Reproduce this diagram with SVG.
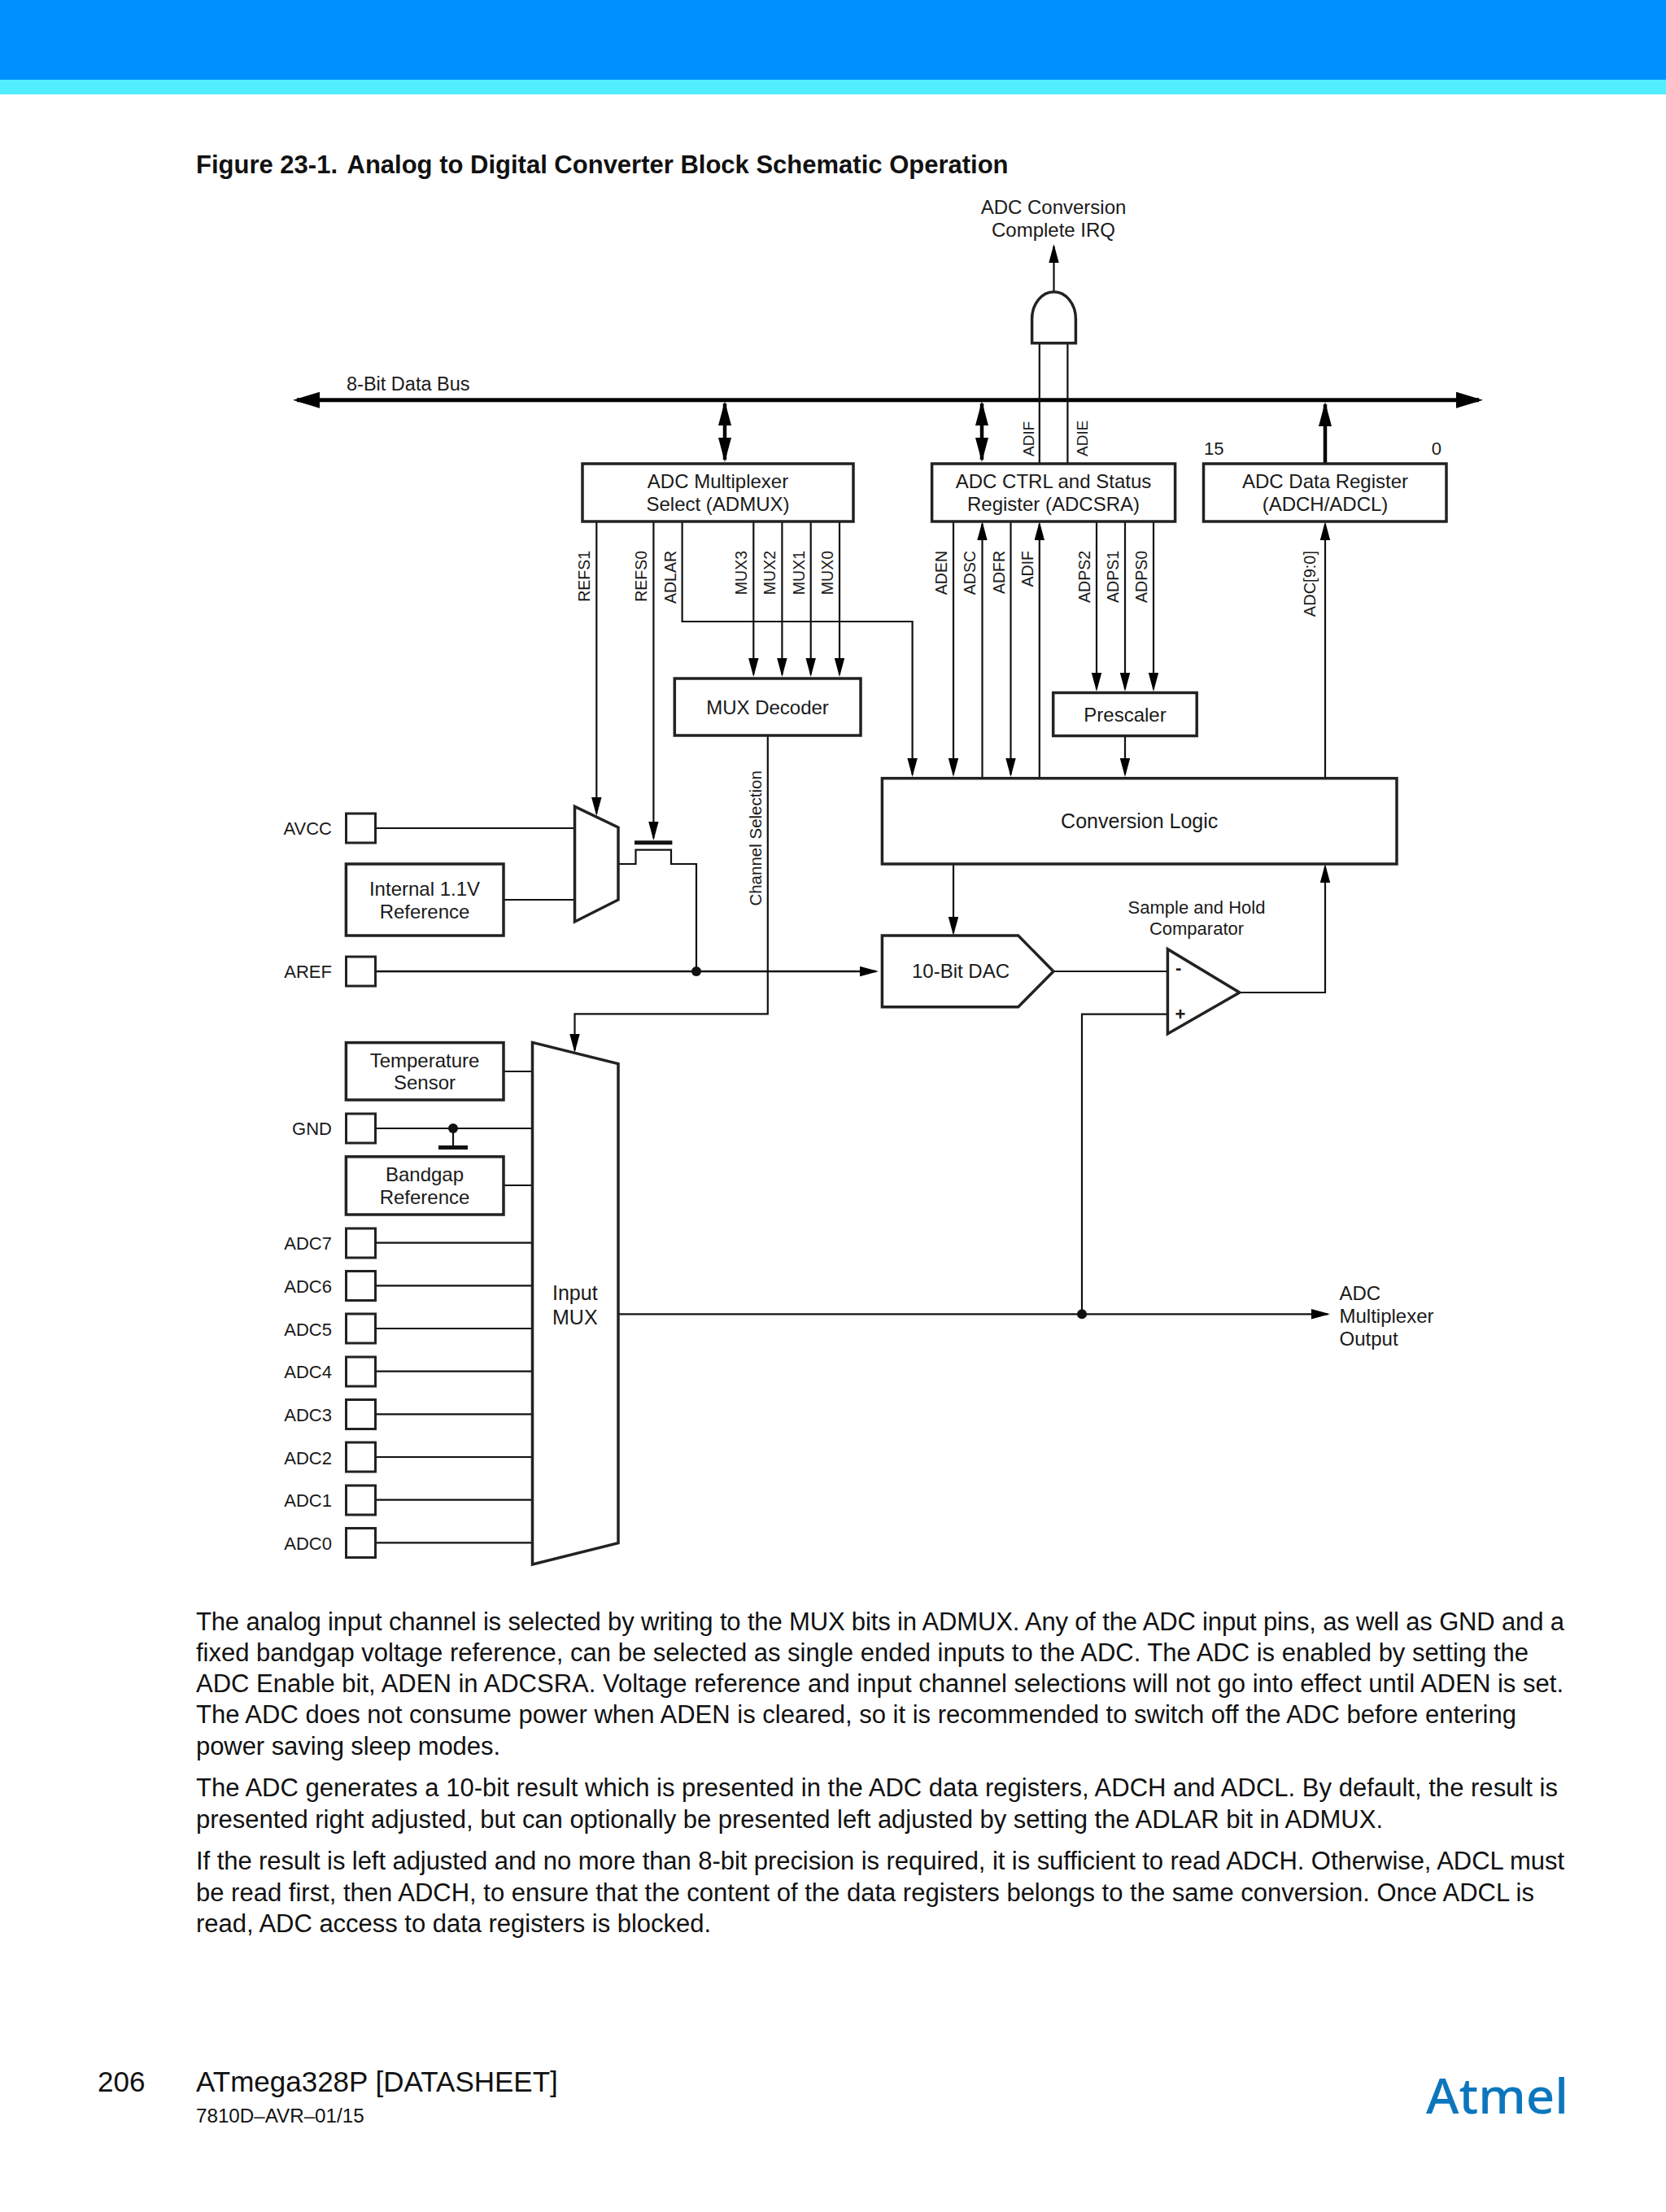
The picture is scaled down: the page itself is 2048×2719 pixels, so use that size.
<svg xmlns="http://www.w3.org/2000/svg" width="2048" height="2719" viewBox="0 0 2048 2719">
<style>
text{font-family:"Liberation Sans",Arial,sans-serif;fill:#1a1a1a}
.t24{font-size:24px;text-anchor:middle}
.t22{font-size:22px;text-anchor:middle}
.lab{font-size:22px;text-anchor:end}
.v{font-size:19.5px;text-anchor:end}
.u{font-size:19px}
.body{font-size:31px;fill:#111}
.title{font-size:31px;font-weight:700;fill:#111}
.box{fill:#fff;stroke:#222;stroke-width:3.5}
.pad{fill:#fff;stroke:#222;stroke-width:3}
.w{fill:none;stroke:#111;stroke-width:2.2}
.a{marker-end:url(#ah)}
.b{fill:none;stroke:#000;stroke-width:4.5}
</style>
<defs>
<marker id="ah" markerUnits="userSpaceOnUse" markerWidth="25" markerHeight="14" refX="20" refY="6.2" orient="auto-start-reverse"><path d="M0,0L23,6.2L0,12.4Z" fill="#000"/></marker>
<marker id="bh" markerUnits="userSpaceOnUse" markerWidth="34" markerHeight="20" refX="27" refY="8" orient="auto-start-reverse"><path d="M0,0L30,8L0,16Z" fill="#000"/></marker>
<marker id="bus" markerUnits="userSpaceOnUse" markerWidth="36" markerHeight="24" refX="28" refY="10" orient="auto-start-reverse"><path d="M0,0L33,10L0,20Z" fill="#000"/></marker>
</defs>
<rect width="2048" height="2719" fill="#fff"/>
<rect id="header-band" width="2048" height="98" fill="#0090ff"/>
<rect id="header-stripe" y="98" width="2048" height="18" fill="#50eeff"/>
<text x="241" y="213" class="title">Figure 23-1.</text>
<text x="426.5" y="213" class="title">Analog to Digital Converter Block Schematic Operation</text>

<g id="connectors">
<path class="b" style="stroke-width:5" d="M365,491.7H1818" marker-start="url(#bus)" marker-end="url(#bus)"/>
<path class="b" d="M891,496V565" marker-start="url(#bh)" marker-end="url(#bh)"/>
<path class="b" d="M1207,496V565" marker-start="url(#bh)" marker-end="url(#bh)"/>
<path class="b" d="M1629,570V497" marker-end="url(#bh)"/>
<path class="w a" d="M1295.5,359V303"/>
<path class="w" d="M1277.8,421V570M1312.4,421V570"/>
<path class="w a" d="M733.3,641V1000"/>
<path class="w a" d="M803.4,641V1030"/>
<path class="w a" d="M838.6,641V764H1121.6V952"/>
<path class="w a" d="M926.3,641V829"/>
<path class="w a" d="M961.4,641V829"/>
<path class="w a" d="M996.7,641V829"/>
<path class="w a" d="M1032,641V829"/>
<path class="w a" d="M1172,641V952"/>
<path class="w a" d="M1207.5,956V644"/>
<path class="w a" d="M1242.5,641V952"/>
<path class="w a" d="M1277.8,956V644"/>
<path class="w a" d="M1348,641V847"/>
<path class="w a" d="M1383,641V847"/>
<path class="w a" d="M1418,641V847"/>
<path class="w a" d="M1383,905V952"/>
<path class="w a" d="M1629,957V644"/>
<path class="w a" d="M1172,1062V1147"/>
<path class="w" d="M1295,1194H1435"/>
<path class="w a" d="M1523.7,1220H1629V1065"/>
<path class="w" d="M1435,1246.7H1330V1615.3"/>
<path class="w a" d="M760,1615.3H1632"/>
<circle cx="1330" cy="1615.3" r="6" fill="#111"/>
<path class="w" d="M461.6,1018H706.5M619,1106H706.5"/>
<path class="w" d="M760,1062H781.5V1044.6H825V1062H856V1194"/>
<path class="w" style="stroke-width:5" d="M780,1035.7H826.4"/>
<path class="w a" style="stroke-width:2.5" d="M461.6,1194H1077"/>
<circle cx="856" cy="1194" r="6" fill="#111"/>
<path class="w a" d="M943.8,903.5V1246.4H706.5V1291"/>
<path class="w" d="M619,1317H654M461.6,1387H654M619,1457H654M557,1387V1408"/>
<circle cx="557" cy="1387" r="6" fill="#111"/>
<path class="w" style="stroke-width:5" d="M539,1410.5H575"/>
<path class="w" d="M461.6,1527.7H654M461.6,1580.3H654M461.6,1633H654M461.6,1685.7H654M461.6,1738.3H654M461.6,1791H654M461.6,1843.7H654M461.6,1896.3H654"/>
</g>

<text x="1295" y="263" class="t24">ADC Conversion</text>
<text x="1295" y="291" class="t24">Complete IRQ</text>
<text x="426" y="480" style="font-size:23.5px">8-Bit Data Bus</text>
<text x="1480" y="559" style="font-size:22px">15</text>
<text x="1772" y="559" style="font-size:22px;text-anchor:end">0</text>
<text transform="rotate(-90 1270.6 561)" x="1270.6" y="561" class="u">ADIF</text>
<text transform="rotate(-90 1337 561)" x="1337" y="561" class="u">ADIE</text>
<g id="bit-labels">
<text transform="rotate(-90 725.3 677)" x="725.3" y="677" class="v">REFS1</text>
<text transform="rotate(-90 795.4 677)" x="795.4" y="677" class="v">REFS0</text>
<text transform="rotate(-90 830.6 677)" x="830.6" y="677" class="v">ADLAR</text>
<text transform="rotate(-90 918 677)" x="918" y="677" class="v">MUX3</text>
<text transform="rotate(-90 953.4 677)" x="953.4" y="677" class="v">MUX2</text>
<text transform="rotate(-90 988.7 677)" x="988.7" y="677" class="v">MUX1</text>
<text transform="rotate(-90 1024 677)" x="1024" y="677" class="v">MUX0</text>
<text transform="rotate(-90 1164 677)" x="1164" y="677" class="v">ADEN</text>
<text transform="rotate(-90 1199 677)" x="1199" y="677" class="v">ADSC</text>
<text transform="rotate(-90 1234.5 677)" x="1234.5" y="677" class="v">ADFR</text>
<text transform="rotate(-90 1269.5 677)" x="1269.5" y="677" class="v">ADIF</text>
<text transform="rotate(-90 1340 677)" x="1340" y="677" class="v">ADPS2</text>
<text transform="rotate(-90 1375 677)" x="1375" y="677" class="v">ADPS1</text>
<text transform="rotate(-90 1410 677)" x="1410" y="677" class="v">ADPS0</text>
<text transform="rotate(-90 1617 677)" x="1617" y="677" class="v" style="font-size:20px">ADC[9:0]</text>
<text transform="rotate(-90 935.6 1113.6)" x="935.6" y="1113.6" style="font-size:20.5px">Channel Selection</text>
</g>

<g id="and-gate"><path class="box" d="M1268.6,421.7V392A26.7,33 0 0 1 1322.4,392V421.7Z"/></g>
<g id="admux"><rect class="box" x="716" y="570" width="333" height="71"/><text x="882.5" y="600" class="t24">ADC Multiplexer</text><text x="882.5" y="628" class="t24">Select (ADMUX)</text></g>
<g id="adcsra"><rect class="box" x="1145.6" y="570" width="299" height="71"/><text x="1295" y="600" class="t24">ADC CTRL and Status</text><text x="1295" y="628" class="t24">Register (ADCSRA)</text></g>
<g id="adc-data"><rect class="box" x="1479.5" y="570" width="298.5" height="71"/><text x="1629" y="600" class="t24">ADC Data Register</text><text x="1629" y="628" class="t24">(ADCH/ADCL)</text></g>
<g id="mux-decoder"><rect class="box" x="829.3" y="834" width="228.7" height="70"/><text x="943.5" y="878" class="t24">MUX Decoder</text></g>
<g id="prescaler"><rect class="box" x="1294.7" y="851.5" width="176.5" height="53"/><text x="1383" y="887" class="t24">Prescaler</text></g>
<g id="conversion-logic"><rect class="box" x="1084.4" y="956.7" width="632.6" height="105.3"/><text x="1400.7" y="1018" class="t24" style="font-size:25px">Conversion Logic</text></g>
<g id="dac"><path class="box" d="M1084.4,1150H1251.7L1295,1194L1251.7,1237.7H1084.4Z"/><text x="1181" y="1202" class="t24">10-Bit DAC</text></g>
<g id="comparator"><path class="box" d="M1435.4,1166.7V1270.7L1523.7,1220Z"/><text x="1448.7" y="1197" style="font-size:22px;font-weight:700;text-anchor:middle">-</text><text x="1451" y="1254" style="font-size:22px;font-weight:700;text-anchor:middle">+</text><text x="1471" y="1123" class="t22">Sample and Hold</text><text x="1471" y="1149" class="t22">Comparator</text></g>
<g id="ref-mux"><path class="box" d="M706.5,991.4L760,1017V1106L706.5,1133Z"/></g>
<g id="internal-ref"><rect class="box" x="425.4" y="1062" width="193.6" height="88"/><text x="522" y="1101" class="t24">Internal 1.1V</text><text x="522" y="1129" class="t24">Reference</text></g>
<g id="temp-sensor"><rect class="box" x="425.4" y="1281.6" width="193.6" height="70.4"/><text x="522" y="1312" class="t24">Temperature</text><text x="522" y="1339" class="t24">Sensor</text></g>
<g id="bandgap"><rect class="box" x="425.4" y="1421.8" width="193.6" height="71.2"/><text x="522" y="1452" class="t24">Bandgap</text><text x="522" y="1480" class="t24">Reference</text></g>
<g id="input-mux"><path class="box" d="M654.5,1281.4L760,1307.5V1896.7L654.5,1923Z"/><text x="679" y="1598" style="font-size:25px">Input</text><text x="679" y="1628" style="font-size:25px">MUX</text></g>
<g id="pad-avcc"><rect class="pad" x="425.5" y="1000" width="36" height="36"/><text x="408" y="1026" class="lab">AVCC</text></g>
<g id="pad-aref"><rect class="pad" x="425.5" y="1176" width="36" height="36"/><text x="408" y="1202" class="lab">AREF</text></g>
<g id="pad-gnd"><rect class="pad" x="425.5" y="1369" width="36" height="36"/><text x="408" y="1395" class="lab">GND</text></g>
<g id="pad-adc7"><rect class="pad" x="425.5" y="1510" width="36" height="36"/><text x="408" y="1536" class="lab">ADC7</text></g>
<g id="pad-adc6"><rect class="pad" x="425.5" y="1562.5" width="36" height="36"/><text x="408" y="1589" class="lab">ADC6</text></g>
<g id="pad-adc5"><rect class="pad" x="425.5" y="1615" width="36" height="36"/><text x="408" y="1641.5" class="lab">ADC5</text></g>
<g id="pad-adc4"><rect class="pad" x="425.5" y="1668" width="36" height="36"/><text x="408" y="1694" class="lab">ADC4</text></g>
<g id="pad-adc3"><rect class="pad" x="425.5" y="1720.5" width="36" height="36"/><text x="408" y="1747" class="lab">ADC3</text></g>
<g id="pad-adc2"><rect class="pad" x="425.5" y="1773" width="36" height="36"/><text x="408" y="1799.5" class="lab">ADC2</text></g>
<g id="pad-adc1"><rect class="pad" x="425.5" y="1826" width="36" height="36"/><text x="408" y="1852" class="lab">ADC1</text></g>
<g id="pad-adc0"><rect class="pad" x="425.5" y="1878.5" width="36" height="36"/><text x="408" y="1905" class="lab">ADC0</text></g>
<g id="adc-output-label"><text x="1646.5" y="1598" style="font-size:24px">ADC</text><text x="1646.5" y="1626" style="font-size:24px">Multiplexer</text><text x="1646.5" y="1654" style="font-size:24px">Output</text></g>

<g id="body-text">
<text x="241" y="2003.5" class="body" textLength="1682">The analog input channel is selected by writing to the MUX bits in ADMUX. Any of the ADC input pins, as well as GND and a</text>
<text x="241" y="2041.7" class="body" textLength="1638">fixed bandgap voltage reference, can be selected as single ended inputs to the ADC. The ADC is enabled by setting the</text>
<text x="241" y="2080" class="body" textLength="1681">ADC Enable bit, ADEN in ADCSRA. Voltage reference and input channel selections will not go into effect until ADEN is set.</text>
<text x="241" y="2118.3" class="body" textLength="1623">The ADC does not consume power when ADEN is cleared, so it is recommended to switch off the ADC before entering</text>
<text x="241" y="2156.5" class="body" textLength="374">power saving sleep modes.</text>
<text x="241" y="2208.3" class="body" textLength="1674">The ADC generates a 10-bit result which is presented in the ADC data registers, ADCH and ADCL. By default, the result is</text>
<text x="241" y="2246.7" class="body" textLength="1459">presented right adjusted, but can optionally be presented left adjusted by setting the ADLAR bit in ADMUX.</text>
<text x="241" y="2298.3" class="body" textLength="1682">If the result is left adjusted and no more than 8-bit precision is required, it is sufficient to read ADCH. Otherwise, ADCL must</text>
<text x="241" y="2336.7" class="body" textLength="1645">be read first, then ADCH, to ensure that the content of the data registers belongs to the same conversion. Once ADCL is</text>
<text x="241" y="2375" class="body" textLength="633">read, ADC access to data registers is blocked.</text>
</g>
<text x="120" y="2571" style="font-size:35px;fill:#111">206</text>
<text x="241" y="2571" style="font-size:35px;fill:#111">ATmega328P [DATASHEET]</text>
<text x="241" y="2609" style="font-size:24.2px;fill:#111">7810D–AVR–01/15</text>
<text id="atmel-logo" x="1753" y="2598" textLength="175" lengthAdjust="spacingAndGlyphs" style="font-family:'Noto Sans',sans-serif;font-size:60px;font-weight:500;fill:#0c76bd">Atmel</text>
</svg>
